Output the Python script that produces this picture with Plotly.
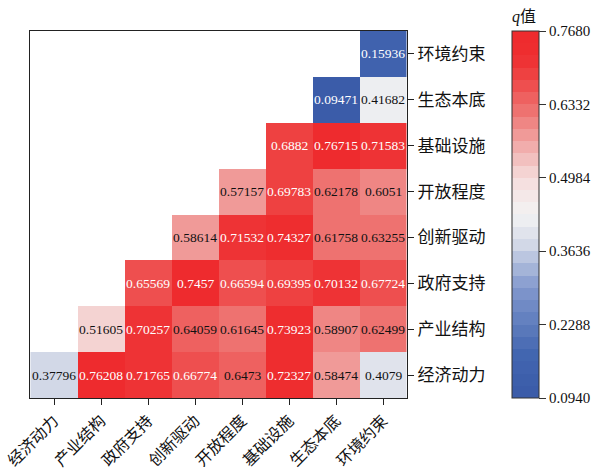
import plotly.graph_objects as go

# ---------------- data ----------------
factors = ["经济动力", "产业结构", "政府支持", "创新驱动", "开放程度", "基础设施", "生态本底", "环境约束"]

row_jjdl = [0.37796, 0.76208, 0.71765, 0.66774, 0.6473, 0.72327, 0.58474, 0.4079]
row_cyjg = [None, 0.51605, 0.70257, 0.64059, 0.61645, 0.73923, 0.58907, 0.62499]
row_zfzc = [None, None, 0.65569, 0.7457, 0.66594, 0.69395, 0.70132, 0.67724]
row_cxqd = [None, None, None, 0.58614, 0.71532, 0.74327, 0.61758, 0.63255]
row_kfcd = [None, None, None, None, 0.57157, 0.69783, 0.62178, 0.6051]
row_jcss = [None, None, None, None, None, 0.6882, 0.76715, 0.71583]
row_stbd = [None, None, None, None, None, None, 0.09471, 0.41682]
row_hjys = [None, None, None, None, None, None, None, 0.15936]

z = [row_jjdl, row_cyjg, row_zfzc, row_cxqd, row_kfcd, row_jcss, row_stbd, row_hjys]

zmin, zmax = 0.094, 0.768
cbar_ticks = [0.0940, 0.2288, 0.3636, 0.4984, 0.6332, 0.7680]
cbar_ticktext = ["0.0940", "0.2288", "0.3636", "0.4984", "0.6332", "0.7680"]

# ---------------- colour scale (stepped) ----------------
anchors = [
    (0.00, (58, 90, 168)),
    (0.12, (66, 102, 176)),
    (0.30, (130, 152, 205)),
    (0.42, (212, 218, 232)),
    (0.50, (243, 243, 243)),
    (0.60, (245, 220, 220)),
    (0.70, (240, 164, 162)),
    (0.78, (238, 116, 114)),
    (0.86, (238, 74, 74)),
    (0.93, (238, 46, 48)),
    (1.00, (238, 42, 46)),
]


def interp(t):
    for (p0, c0), (p1, c1) in zip(anchors[:-1], anchors[1:]):
        if p0 <= t <= p1:
            f = (t - p0) / (p1 - p0) if p1 > p0 else 0
            return tuple(round(a + (b - a) * f) for a, b in zip(c0, c1))
    return anchors[-1][1]


N = 30
colorscale = []
for i in range(N):
    c = interp((i + 0.5) / N)
    col = "rgb(%d,%d,%d)" % c
    colorscale.append([i / N, col])
    colorscale.append([(i + 1) / N, col])

FONT = "Liberation Serif, Times New Roman, Noto Sans CJK SC"

fig = go.Figure()
fig.add_trace(go.Heatmap(
    z=z, x=factors, y=factors,
    zmin=zmin, zmax=zmax,
    colorscale=colorscale,
    hoverongaps=False,
    xgap=0, ygap=0,
    colorbar=dict(
        x=1.2775, xanchor="left", xpad=0,
        y=0.5, yanchor="middle", ypad=0,
        len=1, lenmode="fraction",
        thickness=27,
        outlinewidth=1, outlinecolor="#333",
        tickvals=cbar_ticks, ticktext=cbar_ticktext,
        ticks="outside", ticklen=7, tickcolor="#333",
        tickfont=dict(family=FONT, size=15, color="#111"),
    ),
))

annotations = []
for yi, row in enumerate(z):
    for xi, v in enumerate(row):
        if v is None:
            continue
        color = "white" if (v > 0.65 or v < 0.2) else "#111"
        annotations.append(dict(
            x=factors[xi], y=factors[yi], text=str(v), showarrow=False,
            font=dict(family=FONT, size=13.5, color=color),
        ))

# colour bar title, centred above the bar
annotations.append(dict(
    xref="paper", yref="paper", x=1.3115, y=1.0, xanchor="center", yanchor="bottom",
    yshift=3, text="<i>q</i>值", showarrow=False,
    font=dict(family=FONT, size=16, color="#111"),
))

fig.update_layout(
    width=603, height=468,
    margin=dict(l=30, r=191, t=31, b=70),
    paper_bgcolor="white", plot_bgcolor="white",
    font=dict(family=FONT, color="#111"),
    annotations=annotations,
    xaxis=dict(
        showline=True, mirror=True, linecolor="#222", linewidth=1.3,
        ticks="outside", ticklen=6, tickcolor="#222",
        tickangle=-45, tickfont=dict(family=FONT, size=16, color="#111"),
        showgrid=False, zeroline=False, automargin=False,
    ),
    yaxis=dict(
        side="right",
        showline=True, mirror=True, linecolor="#222", linewidth=1.3,
        ticks="outside", ticklen=6, tickcolor="#222",
        tickfont=dict(family=FONT, size=17, color="#111"),
        showgrid=False, zeroline=False, automargin=False,
    ),
)

fig.write_html("out.html")
